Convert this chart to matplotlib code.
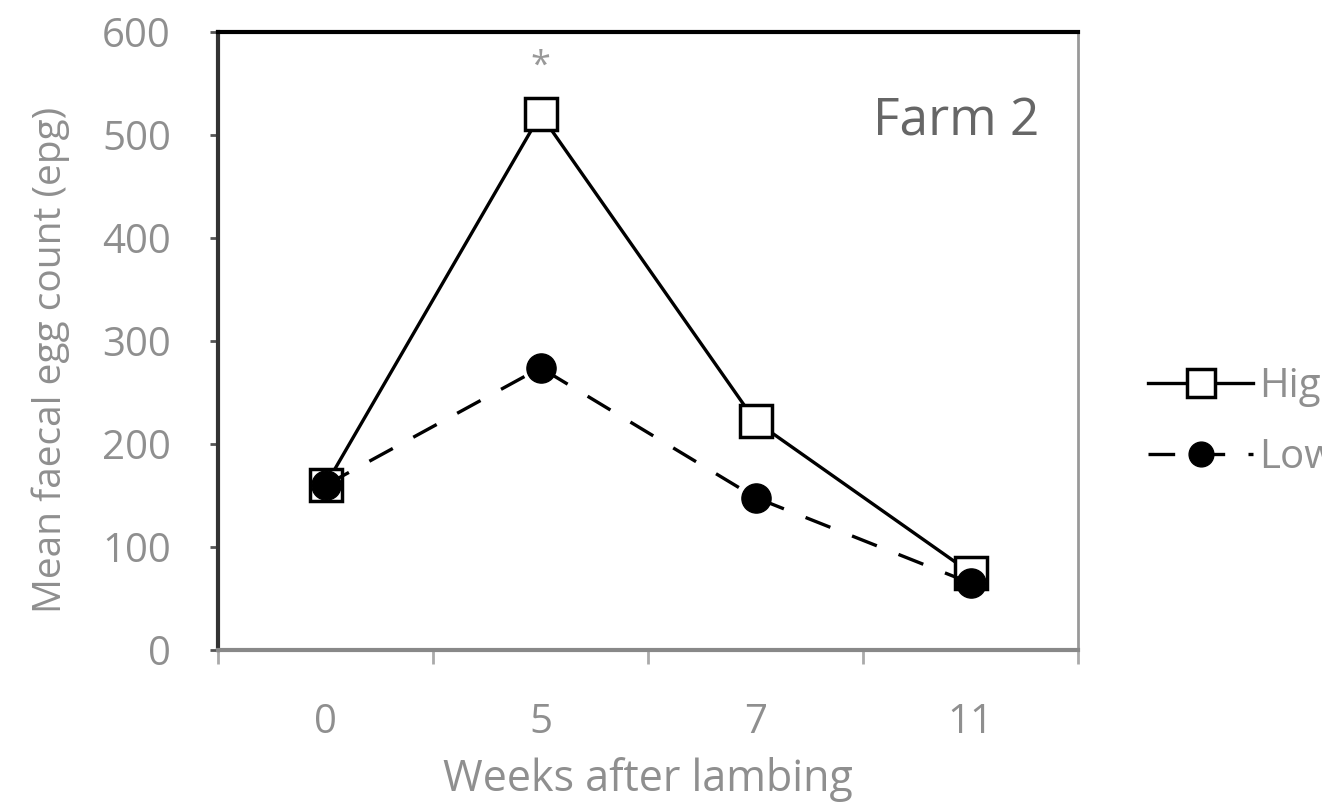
import numpy as np
import matplotlib
matplotlib.use("Agg")
import matplotlib.pyplot as plt

plt.rcParams['font.family'] = ['Open Sans', 'DejaVu Sans']

weeks = ["0", "5", "7", "11"]
high = [160, 520, 222, 75]
low = [160, 274, 148, 65]
yticks = [0, 100, 200, 300, 400, 500, 600]

txt_col = "#8f8f8f"

fig = plt.figure(figsize=(13.22, 8.06), dpi=100)
ax = fig.add_axes([218/1322, 1 - 650/806, 860/1322, 618/806])

x = np.arange(len(weeks))
ax.plot(x, high, color="black", lw=2.4, marker="s", ms=23, mfc="white",
        mec="black", mew=2.5, label="High", zorder=3)
ax.plot(x, low, color="black", lw=2.4, ls=(0, (8, 7)), marker="o", ms=21,
        mfc="black", mec="black", label="Low", zorder=4)

ax.set_xlim(-0.5, len(weeks) - 0.5)
ax.set_ylim(0, 600)
ax.set_yticks(yticks)
ax.set_yticklabels([str(v) for v in yticks], fontsize=29, color=txt_col)
ax.set_xticks(x)
ax.set_xticklabels(weeks, fontsize=29, color=txt_col)
ax.tick_params(axis="x", length=0, pad=38)
ax.set_xticks(np.arange(len(weeks) + 1) - 0.5, minor=True)
ax.tick_params(axis="x", which="minor", length=10, width=2, color="#aaaaaa")
ax.tick_params(axis="y", length=6, width=2, color="#555555", pad=28)

ax.spines["left"].set_color("#333333")
ax.spines["left"].set_linewidth(3)
ax.spines["bottom"].set_color("#888888")
ax.spines["bottom"].set_linewidth(3)
ax.spines["top"].set_color("black")
ax.spines["top"].set_linewidth(3)
ax.spines["right"].set_color("#999999")
ax.spines["right"].set_linewidth(2)

ax.set_xlabel("Weeks after lambing", fontsize=31, color=txt_col, labelpad=10)
ax.set_ylabel("Mean faecal egg count (epg)", fontsize=28, color=txt_col, labelpad=14)
ax.yaxis.set_label_coords(-0.172, 0.47)

ax.text(0.955, 0.855, "Farm 2", transform=ax.transAxes, fontsize=37,
        color="#666666", ha="right", va="center")
ax.text(1, 566, "*", fontsize=26, color="#999999", ha="center", va="center")

leg = fig.legend(loc="center left", bbox_to_anchor=(1112/1322, 1 - 422/806),
                 frameon=False, fontsize=29, handlelength=2.6, labelspacing=0.75,
                 handletextpad=0.15, markerscale=0.85)
for t in leg.get_texts():
    t.set_color(txt_col)

fig.savefig("out.png", dpi=100)
